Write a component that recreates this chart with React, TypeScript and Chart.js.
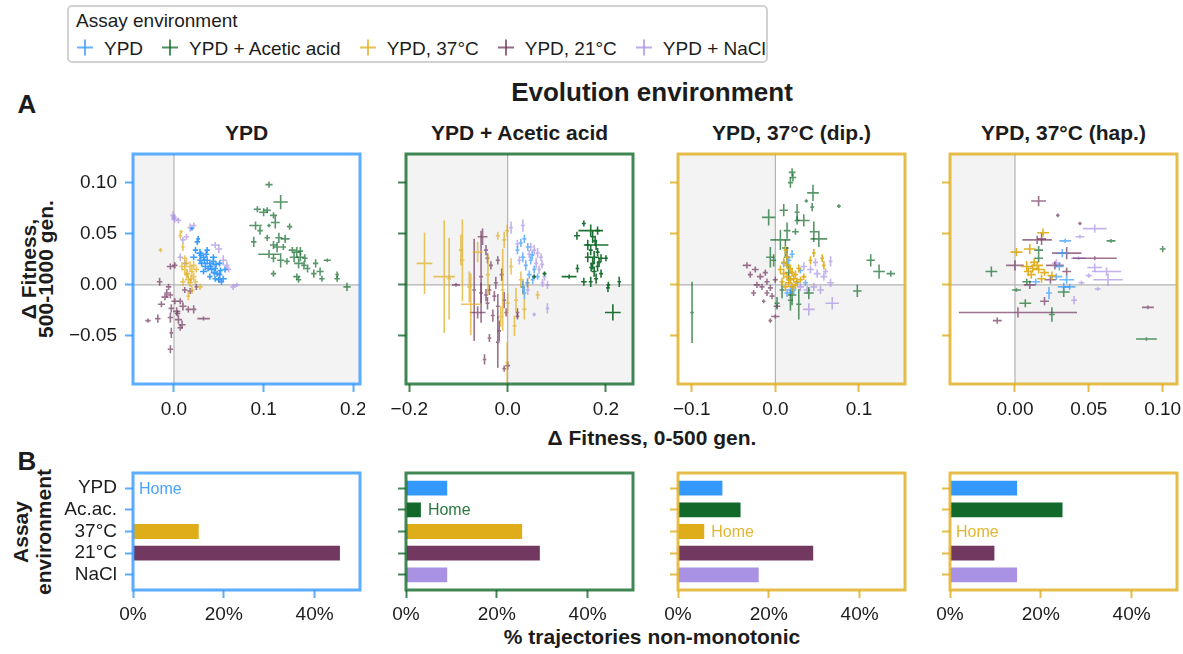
import React, { useEffect, useRef } from 'react';
import { Chart, registerables } from 'chart.js';

Chart.register(...registerables);

const FONT = "'Liberation Sans', Arial, Helvetica, sans-serif";
const TEXT = '#1c1c1c';

// Assay environments (legend order)
const ASSAYS = ['YPD', 'YPD + Acetic acid', 'YPD, 37°C', 'YPD, 21°C', 'YPD + NaCl'];
const ASSAY_SHORT = ['YPD', 'Ac.ac.', '37°C', '21°C', 'NaCl'];
const ASSAY_COLORS = ['#3399ff', '#12692a', '#e0ad1a', '#72385f', '#a991e3'];

// Evolution environments (one column each) and their home assay
const EVOLUTION = ['YPD', 'YPD + Acetic acid', 'YPD, 37°C (dip.)', 'YPD, 37°C (hap.)'];
const HOME = [0, 1, 2, 2];

// Axis ranges and ticks
const X_MIN = [-0.0457, -0.2067, -0.1164, -0.044];
const X_MAX = [0.2075, 0.255, 0.155, 0.1097];
const X_TICKS = [[0, 0.1, 0.2], [-0.2, 0, 0.2], [-0.1, 0, 0.1], [0, 0.05, 0.1]];
const X_TICK_LABELS = [['0.0', '0.1', '0.2'], ['−0.2', '0.0', '0.2'], ['−0.1', '0.0', '0.1'], ['0.00', '0.05', '0.10']];
const Y_MIN = -0.097;
const Y_MAX = 0.128;
const Y_TICKS = [-0.05, 0, 0.05, 0.1];
const Y_TICK_LABELS = ['−0.05', '0.00', '0.05', '0.10'];
const BAR_TICKS = [0, 20, 40];
const BAR_TICK_LABELS = ['0%', '20%', '40%'];

// % of trajectories that are non-monotonic, per assay (YPD, Ac.ac., 37°C, 21°C, NaCl)
const NONMONO_YPD = [0, 0, 14.7, 45.8, 0];
const NONMONO_ACETIC = [9.3, 3.5, 25.8, 29.7, 9.3];
const NONMONO_DIP37 = [10, 14, 6, 30, 18];
const NONMONO_HAP37 = [15, 25, 0, 10, 15];

// Δ fitness points: [0-500 gen., 500-1000 gen., x error, y error]
type Pt = [number, number, number, number];

// Evolved in YPD
const evoYpd_ypd: Pt[] = [
  [0.026, 0.042, 0.003, 0.003], [0.027, 0.045, 0.002, 0.003], [0.022, 0.027, 0.004, 0.003], [0.029, 0.031, 0.004, 0.004],
  [0.033, 0.027, 0.003, 0.003], [0.037, 0.024, 0.004, 0.004], [0.029, 0.024, 0.003, 0.003], [0.040, 0.021, 0.004, 0.003],
  [0.044, 0.023, 0.003, 0.004], [0.035, 0.018, 0.004, 0.004], [0.038, 0.016, 0.003, 0.003], [0.042, 0.015, 0.004, 0.004],
  [0.046, 0.016, 0.003, 0.003], [0.048, 0.011, 0.004, 0.003], [0.051, 0.010, 0.003, 0.004], [0.055, 0.006, 0.004, 0.003],
  [0.050, 0.005, 0.003, 0.003], [0.053, 0.003, 0.003, 0.003], [0.040, 0.008, 0.003, 0.003], [0.033, 0.013, 0.004, 0.003],
  [0.024, 0.034, 0.003, 0.003], [0.044, 0.027, 0.004, 0.003], [0.051, 0.021, 0.003, 0.003], [0.057, 0.015, 0.003, 0.003],
  [0.037, 0.034, 0.003, 0.003], [0.031, 0.021, 0.004, 0.003], [0.046, 0.006, 0.003, 0.003], [0.020, 0.055, 0.001, 0.001],
  [0.030, 0.029, 0.003, 0.004], [0.036, 0.030, 0.003, 0.003], [0.041, 0.018, 0.003, 0.003], [0.047, 0.020, 0.004, 0.003],
  [0.052, 0.014, 0.003, 0.003], [0.034, 0.024, 0.003, 0.003], [0.045, 0.012, 0.003, 0.003],
];
const evoYpd_acetic: Pt[] = [
  [0.106, 0.098, 0.004, 0.003], [0.119, 0.081, 0.008, 0.007], [0.093, 0.074, 0.004, 0.003], [0.100, 0.071, 0.005, 0.004],
  [0.104, 0.073, 0.004, 0.003], [0.111, 0.068, 0.004, 0.003], [0.113, 0.061, 0.005, 0.006], [0.091, 0.058, 0.007, 0.004],
  [0.096, 0.053, 0.003, 0.004], [0.106, 0.058, 0.001, 0.001], [0.129, 0.057, 0.003, 0.003], [0.104, 0.046, 0.003, 0.003],
  [0.117, 0.046, 0.004, 0.005], [0.124, 0.045, 0.005, 0.004], [0.089, 0.042, 0.003, 0.005], [0.111, 0.039, 0.004, 0.004],
  [0.115, 0.037, 0.004, 0.005], [0.122, 0.037, 0.003, 0.003], [0.132, 0.034, 0.004, 0.003], [0.137, 0.032, 0.004, 0.005],
  [0.106, 0.030, 0.012, 0.004], [0.111, 0.026, 0.003, 0.004], [0.134, 0.027, 0.005, 0.005], [0.141, 0.027, 0.004, 0.004],
  [0.146, 0.026, 0.003, 0.004], [0.119, 0.024, 0.004, 0.007], [0.126, 0.023, 0.003, 0.003], [0.139, 0.021, 0.005, 0.005],
  [0.145, 0.019, 0.003, 0.004], [0.158, 0.021, 0.003, 0.004], [0.171, 0.024, 0.004, 0.001], [0.163, 0.013, 0.004, 0.004],
  [0.156, 0.011, 0.003, 0.004], [0.137, 0.008, 0.004, 0.003], [0.139, 0.005, 0.003, 0.003], [0.111, 0.011, 0.003, 0.003],
  [0.165, 0.006, 0.003, 0.003], [0.182, 0.006, 0.003, 0.003], [0.182, 0.010, 0.002, 0.003], [0.193, -0.002, 0.004, 0.004],
  [0.149, 0.016, 0.003, 0.004], [0.141, 0.033, 0.003, 0.004],
];
const evoYpd_hot: Pt[] = [
  [-0.015, 0.034, 0.002, 0.002], [0.007, 0.048, 0.002, 0.003], [0.008, 0.052, 0.002, 0.002], [0.010, 0.037, 0.002, 0.004],
  [0.014, 0.021, 0.003, 0.004], [0.018, 0.018, 0.003, 0.005], [0.012, 0.015, 0.003, 0.004], [0.020, 0.013, 0.003, 0.004],
  [0.014, 0.010, 0.003, 0.004], [0.022, 0.008, 0.003, 0.004], [0.016, 0.005, 0.004, 0.004], [0.018, 0.002, 0.003, 0.004],
  [0.010, 0.003, 0.003, 0.004], [0.024, 0.003, 0.003, 0.003], [0.020, -0.005, 0.003, 0.004], [0.016, -0.011, 0.002, 0.004],
  [0.009, 0.018, 0.003, 0.004], [0.025, 0.015, 0.003, 0.003], [0.022, 0.019, 0.003, 0.004], [0.029, -0.002, 0.003, 0.003],
  [0.012, 0.026, 0.003, 0.003], [0.015, 0.011, 0.003, 0.004], [0.019, 0.006, 0.003, 0.004],
];
const evoYpd_cold: Pt[] = [
  [-0.016, 0.003, 0.003, 0.004], [-0.004, 0.018, 0.004, 0.003], [0.001, 0.019, 0.003, 0.003], [-0.006, -0.002, 0.003, 0.003],
  [-0.008, -0.008, 0.003, 0.004], [-0.004, -0.010, 0.003, 0.003], [-0.014, -0.019, 0.004, 0.003], [0.001, -0.016, 0.004, 0.003],
  [0.007, -0.016, 0.003, 0.003], [0.010, -0.021, 0.004, 0.004], [-0.003, -0.023, 0.003, 0.004], [0.003, -0.026, 0.004, 0.004],
  [-0.004, -0.032, 0.003, 0.005], [-0.018, -0.033, 0.003, 0.004], [-0.029, -0.035, 0.003, 0.002], [0.005, -0.034, 0.004, 0.004],
  [0.009, -0.039, 0.004, 0.004], [0.007, -0.042, 0.003, 0.003], [0.016, -0.024, 0.003, 0.003], [0.022, -0.024, 0.003, 0.004],
  [0.033, -0.033, 0.007, 0.002], [-0.003, -0.047, 0.002, 0.005], [-0.004, -0.063, 0.003, 0.004], [0.018, -0.006, 0.003, 0.003],
  [0.025, -0.002, 0.002, 0.003], [0.012, -0.005, 0.003, 0.003], [-0.010, -0.012, 0.004, 0.003], [0.004, -0.028, 0.003, 0.003],
];
const evoYpd_salt: Pt[] = [
  [-0.001, 0.068, 0.003, 0.004], [0.001, 0.064, 0.004, 0.003], [0.005, 0.063, 0.003, 0.003], [0.018, 0.056, 0.003, 0.004],
  [0.022, 0.058, 0.003, 0.003], [0.014, 0.047, 0.003, 0.003], [0.010, 0.044, 0.003, 0.003], [0.046, 0.039, 0.005, 0.003],
  [0.050, 0.035, 0.004, 0.004], [0.055, 0.024, 0.004, 0.005], [0.059, 0.019, 0.003, 0.004], [0.061, 0.015, 0.003, 0.003],
  [0.066, -0.002, 0.003, 0.003], [0.070, 0.000, 0.003, 0.002], [0.007, 0.027, 0.003, 0.004], [0.012, 0.021, 0.003, 0.003],
  [0.051, 0.005, 0.003, 0.003], [0.000, 0.066, 0.003, 0.003],
];

// Evolved in YPD + acetic acid
const evoAcetic_ypd: Pt[] = [
  [0.020, 0.034, 0.004, 0.004], [0.034, 0.045, 0.004, 0.004], [0.041, 0.037, 0.004, 0.004], [0.031, 0.027, 0.005, 0.005],
  [0.047, 0.024, 0.004, 0.004], [0.037, 0.019, 0.004, 0.005], [0.054, 0.015, 0.004, 0.004], [0.044, 0.010, 0.005, 0.004],
  [0.031, -0.002, 0.004, 0.006], [0.034, -0.008, 0.004, 0.006], [0.051, 0.005, 0.004, 0.004], [0.061, 0.008, 0.004, 0.003],
  [0.027, 0.041, 0.004, 0.004], [0.050, 0.029, 0.004, 0.004], [0.040, 0.002, 0.004, 0.004],
];
const evoAcetic_acetic: Pt[] = [
  [0.141, 0.048, 0.006, 0.004], [0.155, 0.060, 0.004, 0.003], [0.169, 0.053, 0.025, 0.006], [0.183, 0.053, 0.005, 0.004],
  [0.180, 0.039, 0.025, 0.005], [0.163, 0.039, 0.005, 0.005], [0.169, 0.034, 0.004, 0.005], [0.176, 0.027, 0.010, 0.006],
  [0.163, 0.027, 0.006, 0.005], [0.190, 0.026, 0.006, 0.004], [0.200, 0.026, 0.004, 0.003], [0.173, 0.021, 0.005, 0.006],
  [0.183, 0.018, 0.004, 0.005], [0.176, 0.013, 0.005, 0.005], [0.190, 0.011, 0.004, 0.004], [0.180, 0.006, 0.004, 0.005],
  [0.169, 0.003, 0.004, 0.005], [0.155, 0.003, 0.006, 0.004], [0.142, 0.016, 0.003, 0.004], [0.125, 0.008, 0.015, 0.002],
  [0.227, 0.003, 0.003, 0.005], [0.205, 0.000, 0.003, 0.003], [0.204, -0.003, 0.003, 0.004], [0.214, -0.027, 0.016, 0.008],
  [0.075, 0.011, 0.004, 0.002], [0.054, 0.008, 0.003, 0.002], [0.173, 0.047, 0.004, 0.006], [0.183, 0.032, 0.004, 0.004],
  [0.178, 0.043, 0.004, 0.005], [0.170, 0.017, 0.004, 0.004], [0.186, 0.022, 0.004, 0.004],
];
const evoAcetic_hot: Pt[] = [
  [-0.169, 0.021, 0.016, 0.030], [-0.129, 0.008, 0.022, 0.055], [-0.119, 0.006, 0.004, 0.040], [-0.092, 0.024, 0.004, 0.040],
  [-0.095, 0.034, 0.004, 0.015], [-0.075, -0.019, 0.020, 0.030], [-0.061, 0.032, 0.010, 0.010], [-0.078, -0.002, 0.004, 0.015],
  [-0.020, 0.048, 0.004, 0.004], [-0.007, 0.044, 0.004, 0.008], [-0.001, 0.053, 0.004, 0.006], [-0.010, -0.005, 0.004, 0.040],
  [0.000, -0.018, 0.004, 0.010], [0.017, -0.015, 0.004, 0.012], [0.034, -0.024, 0.004, 0.010], [0.027, 0.005, 0.004, 0.008],
  [0.031, -0.002, 0.004, 0.008], [0.041, 0.002, 0.004, 0.005], [0.061, -0.010, 0.004, 0.004], [0.007, 0.018, 0.004, 0.008],
  [-0.001, -0.076, 0.003, 0.020], [-0.014, -0.031, 0.004, 0.010], [0.014, -0.040, 0.004, 0.010], [-0.040, 0.010, 0.004, 0.020],
];
const evoAcetic_cold: Pt[] = [
  [-0.051, 0.047, 0.010, 0.008], [-0.044, 0.034, 0.004, 0.005], [-0.041, 0.026, 0.004, 0.005], [-0.034, 0.019, 0.004, 0.004],
  [-0.020, 0.024, 0.004, 0.004], [-0.054, 0.008, 0.004, 0.045], [-0.068, -0.005, 0.004, 0.050], [-0.054, -0.008, 0.004, 0.010],
  [-0.044, -0.010, 0.004, 0.006], [-0.037, -0.005, 0.004, 0.005], [-0.061, -0.027, 0.016, 0.006], [-0.041, -0.018, 0.004, 0.006],
  [-0.027, -0.011, 0.004, 0.005], [-0.020, -0.021, 0.004, 0.012], [-0.007, -0.015, 0.004, 0.008], [-0.003, -0.027, 0.003, 0.004],
  [-0.017, -0.045, 0.003, 0.010], [-0.037, -0.052, 0.003, 0.004], [-0.020, -0.056, 0.003, 0.025], [-0.047, -0.073, 0.003, 0.005],
  [-0.007, -0.082, 0.003, 0.003], [0.000, -0.079, 0.005, 0.004], [0.020, -0.027, 0.003, 0.004], [0.020, -0.031, 0.003, 0.003],
  [-0.024, 0.002, 0.004, 0.006], [-0.105, 0.000, 0.008, 0.001], [-0.030, -0.030, 0.004, 0.006], [-0.012, 0.010, 0.004, 0.006],
];
const evoAcetic_salt: Pt[] = [
  [0.007, 0.056, 0.003, 0.006], [0.031, 0.058, 0.004, 0.006], [0.020, 0.040, 0.004, 0.004], [0.047, 0.037, 0.004, 0.004],
  [0.054, 0.034, 0.004, 0.005], [0.061, 0.031, 0.004, 0.005], [0.068, 0.027, 0.004, 0.004], [0.058, 0.021, 0.004, 0.005],
  [0.064, 0.015, 0.004, 0.004], [0.075, 0.008, 0.004, 0.004], [0.081, 0.000, 0.004, 0.004], [0.081, -0.023, 0.002, 0.005],
  [0.054, -0.029, 0.003, 0.002], [0.041, -0.005, 0.004, 0.005], [0.071, 0.002, 0.004, 0.004], [0.024, 0.024, 0.004, 0.004],
  [0.044, 0.030, 0.004, 0.004], [0.070, 0.020, 0.004, 0.004],
];

// Evolved at 37°C (diploid)
const evoDip_ypd: Pt[] = [
  [0.010, 0.021, 0.003, 0.004], [0.016, 0.024, 0.003, 0.004], [0.018, -0.005, 0.003, 0.004], [0.014, -0.008, 0.003, 0.004],
  [0.026, 0.002, 0.003, 0.003], [0.022, -0.005, 0.003, 0.004], [0.036, 0.002, 0.003, 0.003], [0.020, 0.030, 0.003, 0.004],
  [0.030, 0.014, 0.003, 0.003],
];
const evoDip_acetic: Pt[] = [
  [-0.0996, -0.027, 0.002, 0.030], [0.020, 0.110, 0.004, 0.004], [0.021, 0.105, 0.004, 0.004], [0.018, 0.100, 0.003, 0.005],
  [0.045, 0.090, 0.007, 0.008], [0.010, 0.073, 0.005, 0.006], [-0.008, 0.066, 0.008, 0.008], [0.026, 0.071, 0.003, 0.008],
  [0.034, 0.063, 0.007, 0.006], [0.026, 0.063, 0.003, 0.004], [0.044, 0.076, 0.002, 0.004], [0.014, 0.053, 0.004, 0.008],
  [0.024, 0.052, 0.004, 0.003], [0.046, 0.052, 0.005, 0.010], [0.052, 0.045, 0.010, 0.008], [0.006, 0.044, 0.012, 0.010],
  [-0.006, 0.027, 0.005, 0.010], [-0.002, 0.024, 0.003, 0.006], [0.014, 0.027, 0.004, 0.010], [0.098, -0.006, 0.005, 0.006],
  [0.114, 0.024, 0.005, 0.006], [0.124, 0.013, 0.007, 0.007], [0.138, 0.011, 0.005, 0.003], [0.076, 0.077, 0.001, 0.001],
  [0.020, -0.010, 0.005, 0.010], [0.018, -0.015, 0.003, 0.010], [0.028, -0.019, 0.003, 0.015], [0.040, -0.008, 0.006, 0.006],
  [0.002, -0.018, 0.003, 0.006], [0.008, -0.005, 0.003, 0.008], [0.037, 0.082, 0.001, 0.001], [0.012, 0.036, 0.004, 0.008],
  [0.016, 0.012, 0.004, 0.008],
];
const evoDip_hot: Pt[] = [
  [0.012, 0.034, 0.002, 0.004], [0.014, 0.027, 0.003, 0.004], [0.006, 0.015, 0.003, 0.004], [0.010, 0.011, 0.004, 0.005],
  [0.014, 0.008, 0.003, 0.004], [0.018, 0.005, 0.004, 0.004], [0.022, 0.006, 0.004, 0.004], [0.016, 0.002, 0.004, 0.004],
  [0.020, -0.002, 0.003, 0.004], [0.026, 0.003, 0.003, 0.004], [0.024, 0.010, 0.003, 0.004], [0.008, 0.003, 0.003, 0.004],
  [0.012, -0.002, 0.003, 0.004], [0.042, 0.024, 0.002, 0.004], [0.046, 0.031, 0.002, 0.004], [0.056, 0.026, 0.002, 0.004],
  [0.058, 0.019, 0.002, 0.004], [0.030, 0.005, 0.003, 0.003], [0.034, 0.008, 0.003, 0.003], [0.014, 0.019, 0.003, 0.004],
  [0.018, 0.016, 0.003, 0.004], [0.020, 0.012, 0.003, 0.004], [0.028, 0.016, 0.003, 0.004], [0.010, 0.022, 0.003, 0.004],
  [0.024, 0.000, 0.003, 0.004],
];
const evoDip_cold: Pt[] = [
  [-0.034, 0.019, 0.005, 0.003], [-0.024, 0.015, 0.004, 0.003], [-0.018, 0.008, 0.004, 0.003], [-0.022, 0.000, 0.004, 0.003],
  [-0.016, -0.002, 0.003, 0.003], [-0.010, 0.003, 0.003, 0.003], [-0.006, -0.003, 0.003, 0.003], [-0.010, -0.008, 0.003, 0.003],
  [-0.004, -0.011, 0.003, 0.003], [-0.014, -0.016, 0.002, 0.002], [0.002, -0.021, 0.004, 0.002], [0.000, -0.031, 0.005, 0.002],
  [-0.006, -0.035, 0.002, 0.002], [-0.026, -0.008, 0.003, 0.003], [-0.030, 0.010, 0.003, 0.003], [-0.012, 0.012, 0.003, 0.003],
  [0.000, 0.005, 0.003, 0.003],
];
const evoDip_salt: Pt[] = [
  [0.034, 0.018, 0.004, 0.004], [0.042, 0.015, 0.004, 0.004], [0.050, 0.011, 0.004, 0.004], [0.058, 0.008, 0.004, 0.004],
  [0.066, 0.023, 0.002, 0.005], [0.066, 0.002, 0.004, 0.004], [0.068, -0.018, 0.008, 0.006], [0.040, -0.024, 0.007, 0.006],
  [0.046, -0.002, 0.004, 0.004], [0.038, -0.005, 0.004, 0.004], [0.054, -0.005, 0.004, 0.004], [0.030, -0.002, 0.004, 0.004],
  [0.060, 0.013, 0.003, 0.003], [0.048, 0.022, 0.003, 0.004],
];

// Evolved at 37°C (haploid)
const evoHap_ypd: Pt[] = [
  [0.034, 0.043, 0.004, 0.002], [0.032, 0.031, 0.003, 0.004], [0.028, 0.008, 0.004, 0.003], [0.035, 0.005, 0.005, 0.004],
  [0.037, -0.002, 0.004, 0.003], [0.033, -0.002, 0.004, 0.004], [0.023, -0.008, 0.002, 0.006], [0.014, 0.003, 0.003, 0.003],
  [0.030, 0.018, 0.003, 0.004],
];
const evoHap_acetic: Pt[] = [
  [-0.016, 0.013, 0.004, 0.005], [0.001, -0.005, 0.003, 0.001], [0.007, -0.018, 0.004, 0.004], [0.025, -0.029, 0.002, 0.007],
  [0.033, -0.007, 0.004, 0.005], [0.065, 0.043, 0.003, 0.001], [0.100, 0.035, 0.002, 0.003], [0.089, -0.053, 0.007, 0.001],
  [0.008, 0.003, 0.003, 0.003], [0.016, 0.034, 0.003, 0.004], [0.016, 0.026, 0.003, 0.004],
];
const evoHap_hot: Pt[] = [
  [0.019, 0.051, 0.004, 0.004], [0.001, 0.032, 0.004, 0.004], [0.010, 0.035, 0.004, 0.005], [0.008, 0.018, 0.004, 0.005],
  [0.012, 0.016, 0.003, 0.004], [0.015, 0.019, 0.004, 0.004], [0.011, 0.010, 0.003, 0.004], [0.016, 0.015, 0.004, 0.004],
  [0.025, 0.009, 0.003, 0.004], [0.018, 0.006, 0.003, 0.004], [0.013, 0.022, 0.003, 0.004], [0.009, 0.013, 0.003, 0.004],
  [0.020, 0.012, 0.003, 0.003],
];
const evoHap_cold: Pt[] = [
  [0.016, 0.082, 0.005, 0.005], [0.029, 0.068, 0.001, 0.001], [0.044, 0.060, 0.001, 0.001], [0.015, 0.044, 0.010, 0.004],
  [0.018, 0.045, 0.003, 0.006], [0.035, 0.031, 0.010, 0.006], [0.054, 0.026, 0.015, 0.002], [0.000, 0.019, 0.006, 0.005],
  [0.027, 0.019, 0.006, 0.004], [0.035, 0.013, 0.003, 0.004], [0.024, 0.005, 0.004, 0.004], [0.020, -0.016, 0.003, 0.004],
  [0.002, -0.027, 0.040, 0.005], [-0.012, -0.035, 0.003, 0.003], [0.090, -0.022, 0.004, 0.001], [0.010, 0.000, 0.004, 0.004],
];
const evoHap_salt: Pt[] = [
  [0.054, 0.055, 0.008, 0.004], [0.044, 0.047, 0.003, 0.001], [0.043, 0.026, 0.005, 0.001], [0.054, 0.017, 0.005, 0.004],
  [0.062, 0.013, 0.010, 0.004], [0.063, 0.005, 0.010, 0.006], [0.050, 0.009, 0.002, 0.002], [0.045, 0.002, 0.002, 0.002],
  [0.056, -0.004, 0.002, 0.001], [0.040, -0.015, 0.002, 0.004], [0.028, 0.021, 0.003, 0.004],
];

// Assay order within each column: YPD, acetic, 37°C, 21°C, NaCl
const SCATTER_SETS: Pt[][][] = [
  [evoYpd_ypd, evoYpd_acetic, evoYpd_hot, evoYpd_cold, evoYpd_salt],
  [evoAcetic_ypd, evoAcetic_acetic, evoAcetic_hot, evoAcetic_cold, evoAcetic_salt],
  [evoDip_ypd, evoDip_acetic, evoDip_hot, evoDip_cold, evoDip_salt],
  [evoHap_ypd, evoHap_acetic, evoHap_hot, evoHap_cold, evoHap_salt],
];
const NONMONO_SETS = [NONMONO_YPD, NONMONO_ACETIC, NONMONO_DIP37, NONMONO_HAP37];

// Layout (pixels)
const PANEL_LEFT = [133, 406, 678, 950];
const PANEL_W = 227;
const SC_TOP = 154;
const SC_H = 230;
const BAR_TOP = 473;
const BAR_H = 117;
const AXIS_W = 72;
const XAXIS_H = 44;
const PAD_T = 6;
const PAD_R = 5;

function rgba(hex: string, a: number) {
  const n = parseInt(hex.slice(1), 16);
  return `rgba(${(n >> 16) & 255},${(n >> 8) & 255},${n & 255},${a})`;
}

const frameColor = (i: number) => rgba(ASSAY_COLORS[HOME[i]], 0.8);

// Light-grey quadrants (x<0,y>0 and x>0,y<0) plus the zero lines
const quadrantPlugin = {
  id: 'quadrants',
  beforeDatasetsDraw(chart: any) {
    const { ctx, chartArea: a, scales } = chart;
    const x0 = scales.x.getPixelForValue(0);
    const y0 = scales.y.getPixelForValue(0);
    ctx.save();
    ctx.fillStyle = '#f3f3f3';
    ctx.fillRect(a.left, a.top, x0 - a.left, y0 - a.top);
    ctx.fillRect(x0, y0, a.right - x0, a.bottom - y0);
    ctx.strokeStyle = '#b4b4b4';
    ctx.lineWidth = 1.2;
    ctx.beginPath();
    ctx.moveTo(x0, a.top);
    ctx.lineTo(x0, a.bottom);
    ctx.moveTo(a.left, y0);
    ctx.lineTo(a.right, y0);
    ctx.stroke();
    ctx.restore();
  },
};

// Error-bar crosses for every point
const crossPlugin = {
  id: 'crosses',
  afterDatasetsDraw(chart: any) {
    const { ctx, chartArea: a, scales } = chart;
    const sx = scales.x;
    const sy = scales.y;
    ctx.save();
    ctx.beginPath();
    ctx.rect(a.left, a.top, a.right - a.left, a.bottom - a.top);
    ctx.clip();
    ctx.lineWidth = 1.6;
    chart.data.datasets.forEach((ds: any) => {
      ctx.strokeStyle = ds.borderColor;
      ds.data.forEach((p: any) => {
        const cx = sx.getPixelForValue(p.x);
        const cy = sy.getPixelForValue(p.y);
        const hx = Math.max(1.8, Math.abs(sx.getPixelForValue(p.x + p.ex) - cx));
        const hy = Math.max(1.8, Math.abs(sy.getPixelForValue(p.y + p.ey) - cy));
        ctx.beginPath();
        ctx.moveTo(cx - hx, cy);
        ctx.lineTo(cx + hx, cy);
        ctx.moveTo(cx, cy - hy);
        ctx.lineTo(cx, cy + hy);
        ctx.stroke();
      });
    });
    ctx.restore();
  },
};

// Coloured frame round the plotting area
const framePlugin = {
  id: 'frame',
  afterDraw(chart: any, _args: any, opts: any) {
    const { ctx, chartArea: a } = chart;
    ctx.save();
    ctx.strokeStyle = opts.color;
    ctx.lineWidth = 3;
    ctx.strokeRect(a.left, a.top, a.right - a.left, a.bottom - a.top);
    ctx.restore();
  },
};

// "Home" tag next to the home-environment bar
const homePlugin = {
  id: 'home',
  afterDatasetsDraw(chart: any, _args: any, opts: any) {
    const { ctx, scales } = chart;
    const x = scales.x.getPixelForValue(opts.value) + 6;
    const y = scales.y.getPixelForValue(opts.index);
    ctx.save();
    ctx.fillStyle = opts.color;
    ctx.font = `16px ${FONT}`;
    ctx.textBaseline = 'middle';
    ctx.textAlign = 'left';
    ctx.fillText('Home', x, y + 1);
    ctx.restore();
  },
};

const tickFont = { family: FONT, size: 19 };

function yAxis(min: number, max: number, ticks: number[], labels: string[], show: boolean, color: string, reverse = false) {
  return {
    type: 'linear',
    position: 'left',
    min,
    max,
    reverse,
    offset: false,
    bounds: 'data',
    afterBuildTicks: (s: any) => {
      s.ticks = ticks.map((v) => ({ value: v }));
    },
    afterFit: (s: any) => {
      s.width = AXIS_W;
      s.paddingTop = 0;
      s.paddingBottom = 0;
    },
    ticks: {
      callback: (_v: any, i: number) => (show ? labels[i] : ''),
      font: tickFont,
      color: TEXT,
      padding: 8,
      autoSkip: false,
    },
    grid: {
      display: true,
      offset: false,
      drawOnChartArea: false,
      drawTicks: true,
      tickLength: 8,
      tickWidth: 2,
      tickColor: color,
    },
    border: { display: false },
  };
}

function xAxis(min: number, max: number, ticks: number[], labels: string[], color: string, padding: number) {
  return {
    type: 'linear',
    position: 'bottom',
    min,
    max,
    offset: false,
    bounds: 'data',
    afterBuildTicks: (s: any) => {
      s.ticks = ticks.map((v) => ({ value: v }));
    },
    afterFit: (s: any) => {
      s.height = XAXIS_H;
      s.paddingLeft = 0;
      s.paddingRight = 0;
    },
    ticks: {
      callback: (_v: any, i: number) => labels[i],
      font: tickFont,
      color: TEXT,
      padding,
      maxRotation: 0,
      autoSkip: false,
    },
    grid: {
      display: true,
      offset: false,
      drawOnChartArea: false,
      drawTicks: true,
      tickLength: 8,
      tickWidth: 2,
      tickColor: color,
    },
    border: { display: false },
  };
}

function scatterConfig(i: number): any {
  const home = HOME[i];
  const order = [4, 3, 2, 1, 0].filter((k) => k !== home).concat([home]);
  const datasets = order.map((k) => ({
    label: ASSAYS[k],
    data: SCATTER_SETS[i][k].map(([x, y, ex, ey]) => ({ x, y, ex, ey })),
    borderColor: rgba(ASSAY_COLORS[k], k === home ? 0.95 : 0.7),
    backgroundColor: 'transparent',
    pointRadius: 0,
    pointHoverRadius: 0,
    showLine: false,
  }));
  const color = frameColor(i);
  return {
    type: 'scatter',
    data: { datasets },
    options: {
      responsive: false,
      animation: false,
      events: [],
      layout: { padding: { top: PAD_T, right: PAD_R, left: 0, bottom: 0 } },
      scales: {
        x: xAxis(X_MIN[i], X_MAX[i], X_TICKS[i], X_TICK_LABELS[i], color, 6),
        y: yAxis(Y_MIN, Y_MAX, Y_TICKS, Y_TICK_LABELS, i === 0, color),
      },
      plugins: {
        legend: { display: false },
        tooltip: { enabled: false },
        frame: { color },
      },
    },
    plugins: [quadrantPlugin, crossPlugin, framePlugin],
  };
}

function barConfig(i: number): any {
  const home = HOME[i];
  const values = NONMONO_SETS[i];
  const color = frameColor(i);
  return {
    type: 'bar',
    data: {
      datasets: [
        {
          data: values.map((v, k) => ({ x: v, y: k })),
          backgroundColor: ASSAY_COLORS,
          borderColor: 'rgba(255,255,255,0.9)',
          borderWidth: 1,
          categoryPercentage: 1,
          barPercentage: 0.78,
        },
      ],
    },
    options: {
      indexAxis: 'y',
      responsive: false,
      animation: false,
      events: [],
      layout: { padding: { top: PAD_T, right: PAD_R, left: 0, bottom: 0 } },
      scales: {
        x: xAxis(0, 50, BAR_TICKS, BAR_TICK_LABELS, color, 5),
        y: yAxis(-0.7, 4.7, [0, 1, 2, 3, 4], ASSAY_SHORT, i === 0, color, true),
      },
      plugins: {
        legend: { display: false },
        tooltip: { enabled: false },
        frame: { color },
        home: { value: values[home], index: home, color: rgba(ASSAY_COLORS[home], 0.9) },
      },
    },
    plugins: [framePlugin, homePlugin],
  };
}

function ChartBox({ left, top, width, height, build }: { left: number; top: number; width: number; height: number; build: () => any }) {
  const ref = useRef<HTMLCanvasElement>(null);
  useEffect(() => {
    const chart = new Chart(ref.current as HTMLCanvasElement, build());
    return () => chart.destroy();
  }, []);
  return (
    <canvas
      ref={ref}
      width={width}
      height={height}
      style={{ position: 'absolute', left, top, width, height, display: 'block' }}
    />
  );
}

function Txt({
  x, y, text, size, bold = false, rotate = false, align = 'center', color = TEXT, spacing = 0,
}: {
  x: number; y: number; text: string; size: number; bold?: boolean; rotate?: boolean; align?: 'center' | 'left'; color?: string; spacing?: number;
}) {
  const tx = align === 'center' ? '-50%' : '0';
  return (
    <div
      style={{
        position: 'absolute',
        left: x,
        top: y,
        transform: `translate(${tx},-50%)${rotate ? ' rotate(-90deg)' : ''}`,
        whiteSpace: 'nowrap',
        lineHeight: 1,
        fontFamily: FONT,
        fontSize: size,
        fontWeight: bold ? 700 : 400,
        letterSpacing: spacing,
        color,
      }}
    >
      {text}
    </div>
  );
}

function LegendMarker({ color }: { color: string }) {
  return (
    <span style={{ position: 'relative', width: 16, height: 16, display: 'inline-block' }}>
      <span style={{ position: 'absolute', left: 0, top: 7, width: 16, height: 2, background: color }} />
      <span style={{ position: 'absolute', left: 7, top: 0, width: 2, height: 16, background: color }} />
    </span>
  );
}

function Legend() {
  return (
    <div
      style={{
        position: 'absolute',
        left: 67,
        top: 5,
        width: 701,
        height: 58,
        boxSizing: 'border-box',
        border: '2px solid #d2d2d2',
        borderRadius: 5,
        background: '#fff',
      }}
    >
      <Txt x={7} y={13} text="Assay environment" size={19} align="left" />
      <div
        style={{
          position: 'absolute',
          left: 8,
          top: 40.5,
          transform: 'translateY(-50%)',
          display: 'flex',
          alignItems: 'center',
          fontFamily: FONT,
          fontSize: 19,
          color: TEXT,
          whiteSpace: 'nowrap',
          lineHeight: 1,
        }}
      >
        {ASSAYS.map((name, k) => (
          <span key={name} style={{ display: 'flex', alignItems: 'center', marginRight: 19 }}>
            <LegendMarker color={rgba(ASSAY_COLORS[k], 0.75)} />
            <span style={{ marginLeft: 11 }}>{name}</span>
          </span>
        ))}
      </div>
    </div>
  );
}

export default function App() {
  return (
    <div
      style={{
        position: 'absolute',
        left: 0,
        top: 0,
        width: 1183,
        height: 654,
        overflow: 'hidden',
        background: '#fff',
      }}
    >
      <Legend />
      <Txt x={27} y={104} text="A" size={26} bold />
      <Txt x={27} y={461} text="B" size={26} bold />
      <Txt x={652} y={92} text="Evolution environment" size={26} bold />
      {EVOLUTION.map((t, i) => (
        <Txt key={t} x={PANEL_LEFT[i] + PANEL_W / 2} y={132} text={t} size={21} bold />
      ))}
      <Txt x={28} y={269} text="Δ Fitness," size={21} bold rotate />
      <Txt x={45} y={269} text="500-1000 gen." size={21} bold rotate />
      <Txt x={652} y={437} text="Δ Fitness, 0-500 gen." size={21} bold />
      <Txt x={20} y={531.5} text="Assay" size={21} bold rotate />
      <Txt x={43} y={531.5} text="environment" size={21} bold rotate />
      <Txt x={652} y={636} text="% trajectories non-monotonic" size={21} bold />
      {PANEL_LEFT.map((l, i) => (
        <ChartBox
          key={`s${i}`}
          left={l - AXIS_W}
          top={SC_TOP - PAD_T}
          width={AXIS_W + PANEL_W + PAD_R}
          height={PAD_T + SC_H + XAXIS_H}
          build={() => scatterConfig(i)}
        />
      ))}
      {PANEL_LEFT.map((l, i) => (
        <ChartBox
          key={`b${i}`}
          left={l - AXIS_W}
          top={BAR_TOP - PAD_T}
          width={AXIS_W + PANEL_W + PAD_R}
          height={PAD_T + BAR_H + XAXIS_H}
          build={() => barConfig(i)}
        />
      ))}
    </div>
  );
}
